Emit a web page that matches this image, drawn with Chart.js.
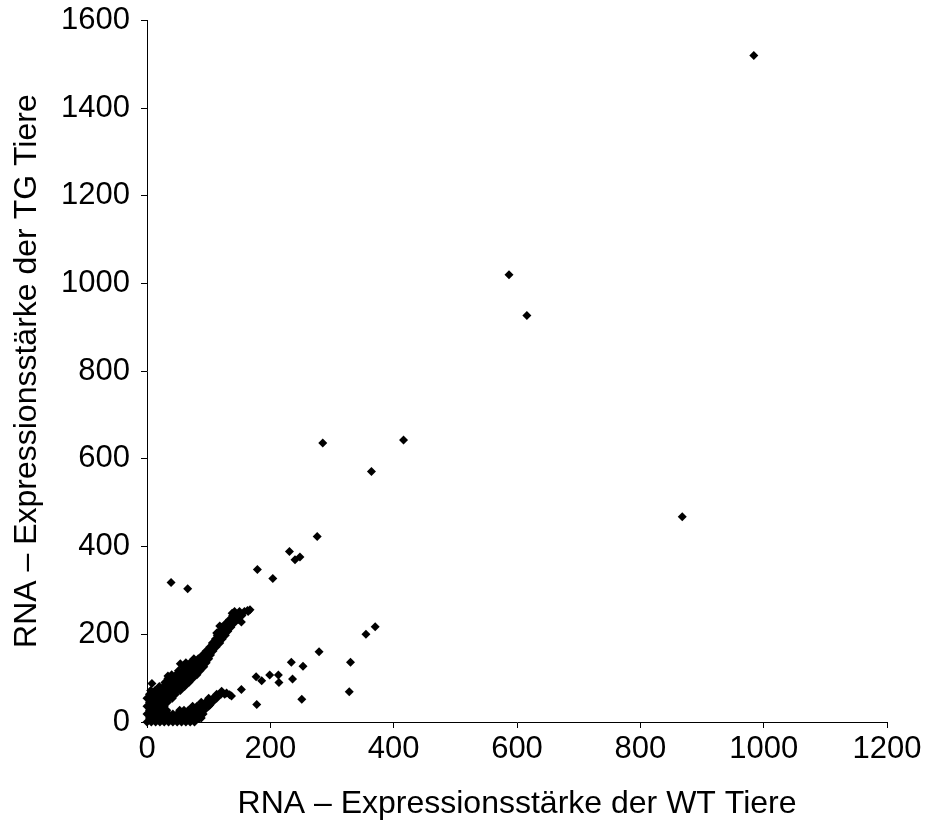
<!DOCTYPE html>
<html>
<head>
<meta charset="utf-8">
<script src="https://cdn.jsdelivr.net/npm/chart.js@4/dist/chart.umd.min.js"></script>
<style>
  html, body { margin: 0; padding: 0; background: #fff; }
  #wrap { width: 927px; height: 823px; }
</style>
</head>
<body>
<div id="wrap"><canvas id="chart" width="927" height="823"></canvas></div>
<script>
// Axis ranges and tick labels
const xTicks = [0, 200, 400, 600, 800, 1000, 1200];
const yTicks = [0, 200, 400, 600, 800, 1000, 1200, 1400, 1600];

// Genes with low expression in both groups (crowded near the origin)
const coreWT = [0, 7, 14, 21, 28, 35, 42, 49, 56, 63, 70, 77, 84,
                4, 11, 18, 25, 32, 39, 46, 53, 60, 67, 74, 81, 88,
                0, 7, 14, 21, 28, 35, 42, 49, 56, 63, 70, 77, 84, 91,
                4, 11, 18, 25, 32, 53, 60, 67, 74, 81, 88, 93];
const coreTG = [0, 0, 0, 0, 0, 0, 0, 0, 0, 0, 0, 0, 8,
                9, 9, 9, 9, 9, 9, 9, 9, 9, 9, 9, 9, 9,
                18, 18, 18, 18, 18, 18, 18, 18, 18, 18, 18, 18, 18, 18,
                27, 27, 27, 27, 27, 27, 27, 27, 27, 27, 27, 27];

// Genes higher in TG than in WT
const upperWT = [0, 7, 14, 21, 28,
                 4, 11, 18, 25, 33,
                 0, 7, 14, 21, 28, 35, 41,
                 4, 11, 18, 25, 32, 39, 46,
                 6, 13, 20, 27, 34, 41, 48, 54,
                 20, 27, 34, 41, 48, 55, 61,
                 29, 36, 43, 50, 57, 64, 68,
                 34, 41, 48, 55, 62, 69, 74,
                 40, 47, 54, 61, 68, 75, 81,
                 51, 58, 65, 72, 79, 86,
                 58, 65, 72, 79, 86, 92,
                 63, 70, 77, 84, 91, 96,
                 76, 83, 90, 97, 100,
                 90, 97, 103,
                 96, 102, 107,
                 102, 108, 112,
                 106, 112, 118,
                 111, 117, 122,
                 114, 120, 127,
                 117, 124, 131,
                 121, 128, 136,
                 128, 135, 141,
                 134, 141, 148,
                 139, 146, 154,
                 142, 150, 158, 163];
const upperTG = [36, 36, 36, 36, 36,
                 45, 45, 45, 45, 45,
                 54, 54, 54, 54, 54, 54, 54,
                 63, 63, 63, 63, 63, 63, 63,
                 72, 72, 72, 72, 72, 72, 72, 72,
                 81, 81, 81, 81, 81, 81, 81,
                 90, 90, 90, 90, 90, 90, 90,
                 99, 99, 99, 99, 99, 99, 99,
                 108, 108, 108, 108, 108, 108, 108,
                 117, 117, 117, 117, 117, 117,
                 126, 126, 126, 126, 126, 126,
                 135, 135, 135, 135, 135, 135,
                 144, 144, 144, 144, 144,
                 153, 153, 153,
                 162, 162, 162,
                 171, 171, 171,
                 180, 180, 180,
                 189, 189, 189,
                 198, 198, 198,
                 207, 207, 207,
                 216, 216, 216,
                 225, 225, 225,
                 234, 234, 234,
                 243, 243, 243,
                 252, 252, 252, 254];

// Genes lower in TG than in WT
const lowerWT = [74, 81, 88, 95, 100,
                 88, 95, 102, 106,
                 100, 107, 113,
                 113, 120, 126,
                 121, 129, 134, 137];
const lowerTG = [36, 36, 36, 36, 36,
                 45, 45, 45, 45,
                 54, 54, 54,
                 63, 63, 63,
                 70, 66, 62, 59];

// Individual genes away from the two main bands
const singleWT = [8, 34, 54, 39, 66, 83, 102, 153, 178, 177, 186, 199, 213, 214, 236, 251, 328, 234, 253, 279, 330, 355, 370,
                  113, 118, 138, 153, 164, 167, 179, 204, 231, 240, 248, 276, 285, 364, 416, 587, 616, 868, 984];
const singleTG = [88, 105, 133, 318, 304, 8, 39, 74, 40, 103, 94, 107, 107, 90, 98, 52, 69, 136, 127, 160, 136, 200, 217,
                  203, 219, 248, 228, 252, 256, 348, 327, 389, 370, 376, 423, 636, 571, 643, 1020, 927, 468, 1520];

function toPoints(xs, ys) {
  return xs.map((x, i) => ({ x: x, y: ys[i] }));
}

const pointStyle = {
  pointStyle: 'rectRot',
  pointRadius: 4.5,
  pointHoverRadius: 4.5,
  backgroundColor: '#000000',
  borderColor: '#000000',
  borderWidth: 0,
  showLine: false,
  clip: false
};

const xTickFont = { family: 'Liberation Sans, Arial, sans-serif', size: 31 };
const yTickFont = { family: 'Liberation Sans, Arial, sans-serif', size: 31, lineHeight: 0.6 };
const titleFont = { family: 'Liberation Sans, Arial, sans-serif', size: 32 };

new Chart(document.getElementById('chart'), {
  type: 'scatter',
  data: {
    datasets: [
      Object.assign({ label: 'core', data: toPoints(coreWT, coreTG) }, pointStyle),
      Object.assign({ label: 'upper', data: toPoints(upperWT, upperTG) }, pointStyle),
      Object.assign({ label: 'lower', data: toPoints(lowerWT, lowerTG) }, pointStyle),
      Object.assign({ label: 'single', data: toPoints(singleWT, singleTG) }, pointStyle)
    ]
  },
  options: {
    responsive: false,
    animation: false,
    events: [],
    layout: { padding: { top: 16, right: 40, bottom: 0, left: 0 } },
    plugins: { legend: { display: false }, tooltip: { enabled: false } },
    scales: {
      x: {
        type: 'linear',
        min: xTicks[0],
        max: xTicks[xTicks.length - 1],
        afterBuildTicks: (scale) => { scale.ticks = xTicks.map(v => ({ value: v })); },
        afterFit: (scale) => { scale.height = 101; },
        ticks: { color: '#000', font: xTickFont, padding: 3, maxRotation: 0, autoSkip: false, callback: (v) => String(v) },
        grid: { drawOnChartArea: false, drawTicks: true, tickLength: 6, color: '#000', lineWidth: 1 },
        border: { display: true, color: '#000', width: 1 },
        title: { display: true, text: 'RNA – Expressionsstärke der WT Tiere', color: '#000', font: titleFont, padding: { top: 0, bottom: 0 } }
      },
      y: {
        type: 'linear',
        min: yTicks[0],
        max: yTicks[yTicks.length - 1],
        afterBuildTicks: (scale) => { scale.ticks = yTicks.map(v => ({ value: v })); },
        afterFit: (scale) => { scale.width = 147; },
        ticks: { color: '#000', font: yTickFont, padding: 11, autoSkip: false, callback: (v) => String(v) },
        grid: { drawOnChartArea: false, drawTicks: true, tickLength: 6, color: '#000', lineWidth: 1 },
        border: { display: true, color: '#000', width: 1 },
        title: { display: true, text: 'RNA – Expressionsstärke der TG Tiere', color: '#000', font: titleFont, padding: { top: 8, bottom: 0 } }
      }
    }
  }
});
</script>
</body>
</html>
